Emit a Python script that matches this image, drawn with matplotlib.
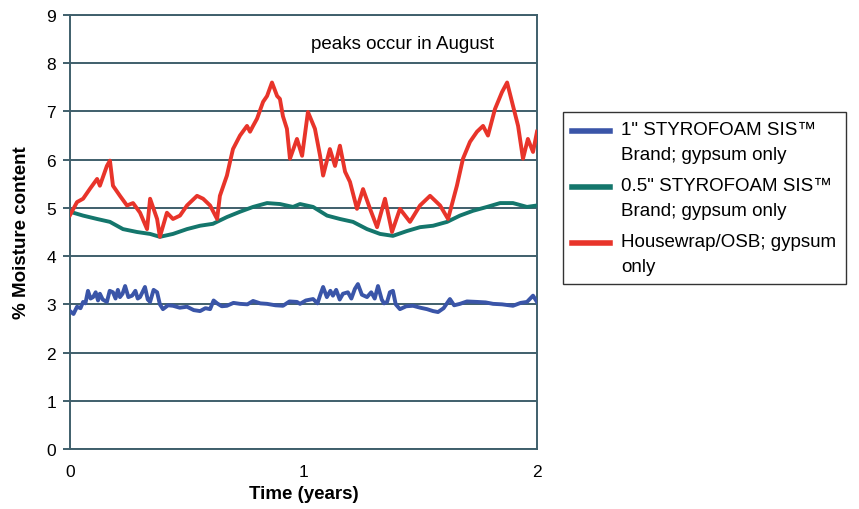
import matplotlib
matplotlib.use("Agg")
import matplotlib.pyplot as plt

plt.rcParams["font.family"] = ["Liberation Sans", "DejaVu Sans"]

# time in years, values in % moisture content
blue_t = [0.000, 0.015, 0.030, 0.045, 0.056, 0.066, 0.077, 0.088, 0.099, 0.110,
          0.120, 0.128, 0.140, 0.158, 0.170, 0.184, 0.195, 0.205, 0.214, 0.225,
          0.236, 0.250, 0.266, 0.280, 0.290, 0.300, 0.310, 0.321, 0.333, 0.343,
          0.358, 0.373, 0.385, 0.398, 0.420, 0.441, 0.470, 0.501, 0.530, 0.557,
          0.580, 0.600, 0.615, 0.630, 0.650, 0.672, 0.700, 0.728, 0.760, 0.784,
          0.815, 0.844, 0.880, 0.912, 0.940, 0.972, 0.985, 1.010, 1.041, 1.060,
          1.072, 1.084, 1.100, 1.115, 1.126, 1.140, 1.155, 1.169, 1.190, 1.205,
          1.220, 1.233, 1.250, 1.272, 1.290, 1.305, 1.319, 1.335, 1.345, 1.358,
          1.370, 1.383, 1.395, 1.413, 1.440, 1.469, 1.500, 1.529, 1.555, 1.576,
          1.600, 1.627, 1.645, 1.670, 1.700, 1.743, 1.780, 1.812, 1.850, 1.897,
          1.930, 1.957, 1.983, 2.000]
blue_v = [2.86, 2.80, 2.95, 2.92, 3.05, 3.02, 3.28, 3.12, 3.15, 3.25,
          3.08, 3.22, 3.10, 3.05, 3.28, 3.25, 3.12, 3.30, 3.15, 3.22,
          3.38, 3.15, 3.18, 3.28, 3.12, 3.15, 3.25, 3.36, 3.10, 3.05,
          3.30, 3.25, 3.00, 2.90, 2.98, 2.97, 2.93, 2.95, 2.88, 2.86,
          2.92, 2.90, 3.08, 3.02, 2.96, 2.97, 3.03, 3.01, 3.00, 3.07,
          3.02, 3.01, 2.98, 2.97, 3.06, 3.05, 3.01, 3.08, 3.11, 3.02,
          3.20, 3.36, 3.15, 3.28, 3.18, 3.30, 3.10, 3.22, 3.25, 3.12,
          3.32, 3.42, 3.20, 3.15, 3.25, 3.12, 3.38, 3.10, 3.02, 3.05,
          3.25, 3.28, 3.00, 2.90, 2.96, 2.97, 2.93, 2.90, 2.86, 2.84,
          2.92, 3.11, 2.98, 3.01, 3.06, 3.05, 3.04, 3.01, 3.00, 2.97,
          3.03, 3.05, 3.18, 3.05]

teal_t = [0.000, 0.056, 0.116, 0.171, 0.227, 0.287, 0.343, 0.385, 0.441, 0.501,
          0.557, 0.612, 0.672, 0.728, 0.784, 0.844, 0.899, 0.955, 0.985, 1.041,
          1.101, 1.156, 1.212, 1.272, 1.328, 1.383, 1.443, 1.499, 1.555, 1.615,
          1.670, 1.726, 1.786, 1.842, 1.897, 1.957, 2.000]
teal_v = [4.92, 4.84, 4.77, 4.71, 4.56, 4.50, 4.46, 4.40, 4.46, 4.56,
          4.63, 4.67, 4.81, 4.92, 5.02, 5.10, 5.08, 5.02, 5.08, 5.02,
          4.84, 4.77, 4.71, 4.56, 4.46, 4.42, 4.52, 4.60, 4.63, 4.71,
          4.84, 4.94, 5.02, 5.10, 5.10, 5.02, 5.05]

red_t = [0.000, 0.030, 0.056, 0.086, 0.116, 0.128, 0.158, 0.171, 0.184, 0.214,
         0.244, 0.270, 0.300, 0.330, 0.343, 0.373, 0.385, 0.415, 0.441, 0.471,
         0.501, 0.544, 0.570, 0.600, 0.630, 0.642, 0.672, 0.685, 0.698, 0.728,
         0.758, 0.771, 0.784, 0.801, 0.827, 0.844, 0.865, 0.887, 0.899, 0.912,
         0.929, 0.942, 0.972, 0.994, 1.019, 1.049, 1.071, 1.084, 1.113, 1.135,
         1.156, 1.178, 1.199, 1.229, 1.255, 1.285, 1.315, 1.349, 1.379, 1.413,
         1.456, 1.499, 1.542, 1.585, 1.619, 1.657, 1.683, 1.713, 1.743, 1.769,
         1.790, 1.820, 1.850, 1.872, 1.897, 1.919, 1.940, 1.961, 1.983, 2.000]
red_v = [4.85, 5.12, 5.19, 5.40, 5.60, 5.46, 5.87, 5.98, 5.46, 5.25,
         5.05, 5.10, 4.90, 4.56, 5.19, 4.77, 4.40, 4.90, 4.77, 4.84,
         5.05, 5.25, 5.19, 5.05, 4.77, 5.25, 5.67, 5.95, 6.22, 6.50,
         6.70, 6.58, 6.70, 6.85, 7.20, 7.32, 7.60, 7.32, 7.26, 6.90,
         6.64, 6.02, 6.43, 6.08, 6.99, 6.64, 6.08, 5.67, 6.22, 5.87,
         6.29, 5.75, 5.54, 4.98, 5.39, 4.98, 4.60, 5.19, 4.50, 4.98,
         4.71, 5.05, 5.25, 5.05, 4.77, 5.46, 6.02, 6.37, 6.58, 6.70,
         6.50, 7.05, 7.40, 7.60, 7.12, 6.70, 6.02, 6.43, 6.16, 6.58]

labels = ['1" STYROFOAM SIS™\nBrand; gypsum only',
          '0.5" STYROFOAM SIS™\nBrand; gypsum only',
          'Housewrap/OSB; gypsum\nonly']
colors = ["#3a55a8", "#14766c", "#e8342a"]

GRID = "#3f5f6b"

fig = plt.figure(figsize=(8.59, 5.10), dpi=100)
ax = fig.add_axes([70 / 859, 1 - 450 / 510, 467 / 859, 434 / 510])

ax.plot(blue_t, blue_v, color=colors[0], lw=2.8, label=labels[0], zorder=3)
ax.plot(teal_t, teal_v, color=colors[1], lw=2.8, label=labels[1], zorder=3)
ax.plot(red_t, red_v, color=colors[2], lw=2.8, label=labels[2], zorder=4)

ax.set_xlim(0, 2)
ax.set_ylim(0, 9)
ax.set_yticks(range(0, 10))
ax.set_xticks([0, 1, 2])
ax.grid(axis="y", color=GRID, lw=1.4, zorder=1)
for s in ax.spines.values():
    s.set_color(GRID)
    s.set_linewidth(1.4)
ax.tick_params(axis="y", length=5, width=1.4, color=GRID, labelsize=12.5, pad=5)
ax.tick_params(axis="x", length=0, labelsize=12.5, pad=11)

ax.set_ylabel("% Moisture content", fontsize=13.5, fontweight="bold", labelpad=12)
ax.set_xlabel("Time (years)", fontsize=13.5, fontweight="bold", labelpad=4)

ax.text(1.426, 8.4, "peaks occur in August", fontsize=13.5, ha="center", va="center")

leg = ax.legend(loc="upper left", bbox_to_anchor=(563 / 859, 1 - 113 / 510),
                bbox_transform=fig.transFigure, fontsize=13.5, frameon=True,
                fancybox=False, edgecolor="black", handlelength=2.0,
                borderpad=0.5, labelspacing=0.75, handletextpad=0.6,
                borderaxespad=0)
leg.get_frame().set_linewidth(1.0)
for t in leg.get_texts():
    t.set_linespacing(1.6)
# handles sit level with the first text line, as in the reference
for line in leg.get_lines():
    line.set_linewidth(4)
    y = line.get_ydata()
    line.set_ydata([v + 8 for v in y])

fig.savefig("out.png", dpi=100)
